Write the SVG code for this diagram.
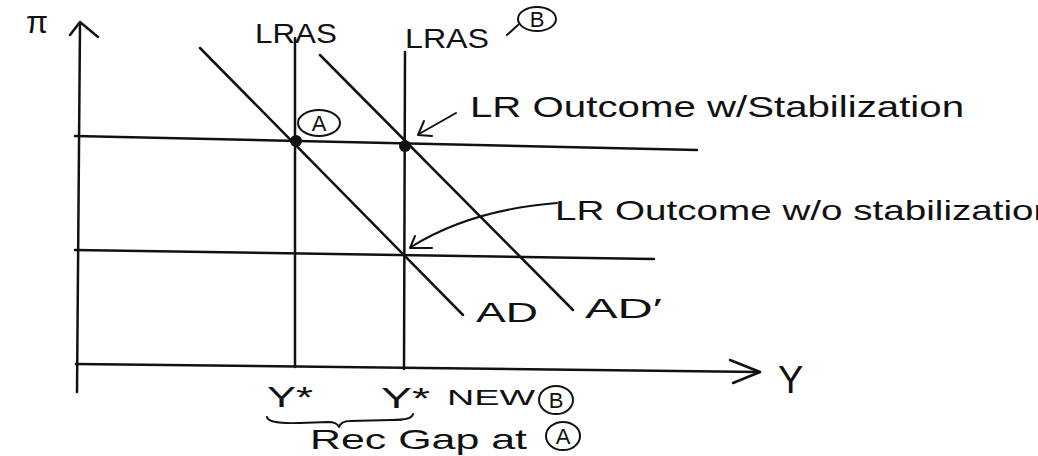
<svg xmlns="http://www.w3.org/2000/svg" width="1038" height="456" viewBox="0 0 1038 456">
<style>
.ln{stroke:#111;stroke-width:2.5;fill:none;stroke-linecap:round;stroke-linejoin:round}
.th{stroke:#111;stroke-width:2;fill:none;stroke-linecap:round;stroke-linejoin:round}
.t{font-family:"Liberation Sans",Arial,sans-serif;fill:#111}
.c{font-family:"Liberation Sans",Arial,sans-serif;fill:#111;font-size:22px;text-anchor:middle}
.dot{fill:#111}
</style>
<rect width="1038" height="456" fill="#fff"/>
<g id="axes">
  <path class="ln" d="M80 24 L77 392"/>
  <path class="ln" d="M70 35 L80 22 L98 37"/>
  <path class="ln" d="M76 364 L760 372"/>
  <path class="ln" d="M730 360 L760 372 L733 383"/>
  <text class="t" x="26" y="33" font-size="32">π</text>
  <text class="t" x="778" y="393" font-size="38">Y</text>
</g>
<g id="lras1">
  <path class="ln" d="M295 38 L295 367"/>
  <text class="t" x="255" y="43" font-size="28" textLength="82" lengthAdjust="spacingAndGlyphs">LRAS</text>
</g>
<g id="lras2">
  <path class="ln" d="M405 52 L404 369"/>
  <text class="t" x="405" y="48" font-size="28" textLength="84" lengthAdjust="spacingAndGlyphs">LRAS</text>
  <path class="th" d="M507 35 L518 25"/>
  <ellipse class="th" cx="537" cy="19" rx="19" ry="12"/>
  <text class="c" x="537" y="27">B</text>
</g>
<g id="pi-high">
  <path class="ln" d="M75 136 L697 150"/>
</g>
<g id="pi-low">
  <path class="ln" d="M75 250 L654 259"/>
</g>
<g id="ad">
  <path class="ln" d="M200 48 L463 315"/>
  <text class="t" x="476" y="322" font-size="28" textLength="62" lengthAdjust="spacingAndGlyphs">AD</text>
</g>
<g id="ad2">
  <path class="ln" d="M320 55 L573 310"/>
  <text class="t" x="585" y="318" font-size="28" textLength="77" lengthAdjust="spacingAndGlyphs">AD′</text>
</g>
<g id="pointA">
  <circle class="dot" cx="296" cy="141" r="6"/>
  <ellipse class="th" cx="319" cy="123" rx="21" ry="13"/>
  <text class="c" x="319" y="131">A</text>
</g>
<g id="pointB">
  <circle class="dot" cx="405" cy="146" r="6"/>
</g>
<g id="connectors">
  <path class="th" d="M456 113 L419 134"/>
  <path class="th" d="M424 121 L418 135 L432 136"/>
  <path class="th" d="M557 203 Q470 210 411 247"/>
  <path class="th" d="M415 236 L410 248 L432 248"/>
</g>
<g id="label-with">
  <text class="t" x="470" y="117" font-size="30" textLength="494" lengthAdjust="spacingAndGlyphs">LR Outcome w/Stabilization</text>
</g>
<g id="label-without">
  <text class="t" x="555" y="220" font-size="28" textLength="500" lengthAdjust="spacingAndGlyphs">LR Outcome w/o stabilization</text>
</g>
<g id="ystar">
  <text class="t" x="267" y="407" font-size="30" textLength="46" lengthAdjust="spacingAndGlyphs">Y*</text>
</g>
<g id="ystar-new">
  <text class="t" x="381" y="408" font-size="30" textLength="49" lengthAdjust="spacingAndGlyphs">Y*</text>
  <text class="t" x="447" y="405" font-size="22" textLength="88" lengthAdjust="spacingAndGlyphs">NEW</text>
  <ellipse class="th" cx="556" cy="400" rx="17" ry="14"/>
  <text class="c" x="556" y="408">B</text>
</g>
<g id="gap">
  <path class="th" d="M267 417 Q268 424 300 423 L328 422 Q337 422 339 427 Q341 421 350 421 L392 420 Q412 420 413 414"/>
  <text class="t" x="310" y="449" font-size="28" textLength="217" lengthAdjust="spacingAndGlyphs">Rec Gap at</text>
  <ellipse class="th" cx="563" cy="436" rx="17" ry="14"/>
  <text class="c" x="563" y="444">A</text>
</g>
</svg>
